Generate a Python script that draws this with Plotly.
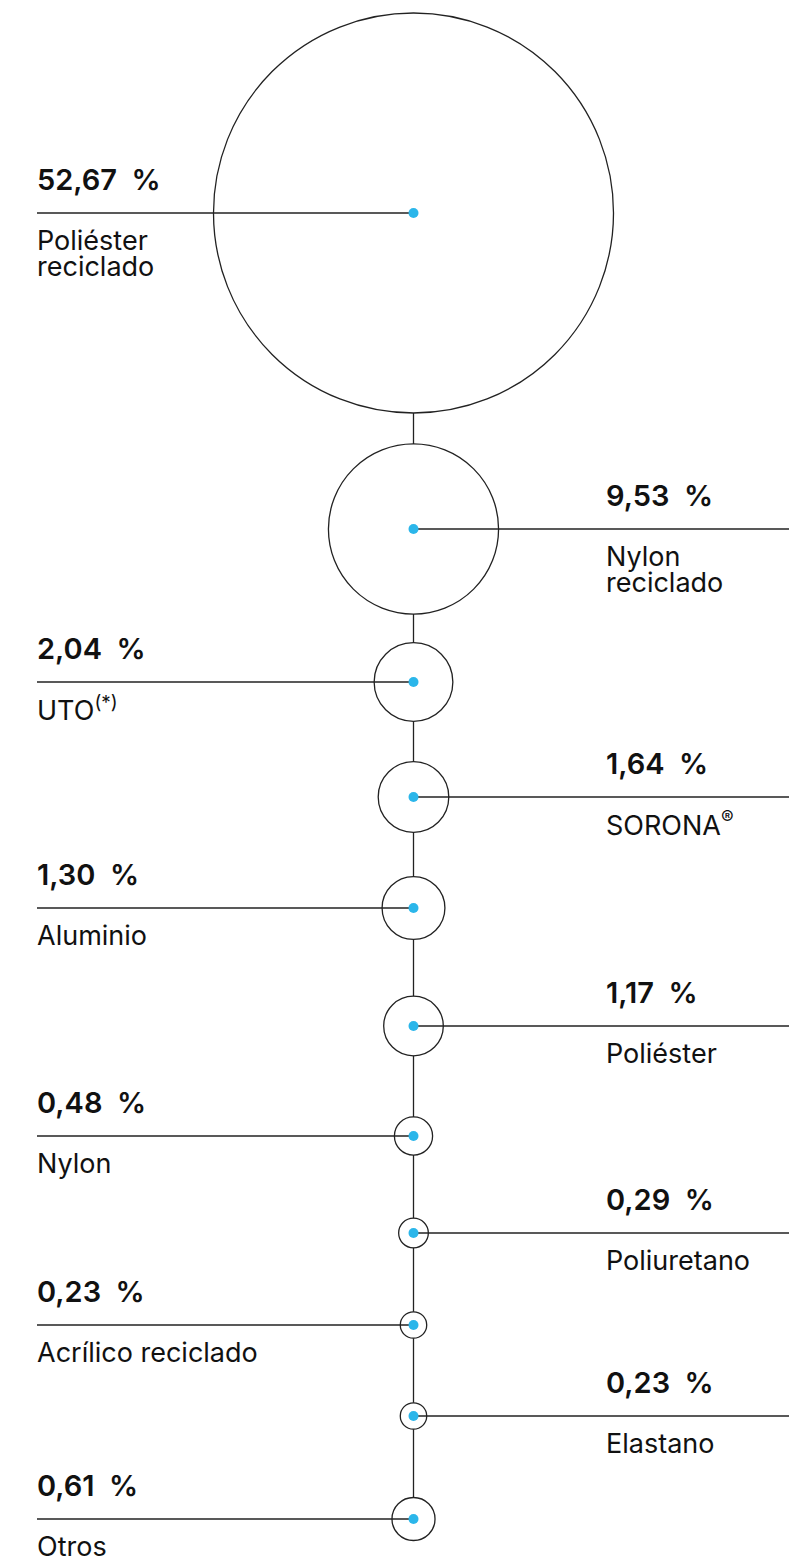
import plotly.graph_objects as go

# composition by material, % of total
materials = [
    "Poliéster\nreciclado", "Nylon\nreciclado", "UTO<sup>(*)</sup>", "SORONA<sup>®</sup>",
    "Aluminio", "Poliéster", "Nylon", "Poliuretano", "Acrílico reciclado", "Elastano", "Otros",
]
shares = [52.67, 9.53, 2.04, 1.64, 1.30, 1.17, 0.48, 0.29, 0.23, 0.23, 0.61]
sides = ["left", "right"] * 5 + ["left"]

# layout: vertical position of each row on the page (px from top)
row_y = [213, 529, 682, 797, 908, 1026, 1136, 1233, 1325, 1416, 1519]

W, H = 789, 1560
AXIS_X = 413.5
LEFT_X, RIGHT_X = 37, 606
TEXT_NUDGE = -2  # glyph side bearing
MAX_DIAM = 400
INK = "#222222"
DOT = "#2bb6ea"
FONT = "Inter"

axis_x = [AXIS_X] * len(shares)

fig = go.Figure()

# spine
fig.add_trace(go.Scatter(
    x=axis_x, y=row_y, mode="lines",
    line=dict(color=INK, width=1.3), hoverinfo="skip",
))

# bubbles, area proportional to the share (plotly halves the value before sqrt)
fig.add_trace(go.Scatter(
    x=axis_x, y=row_y, mode="markers",
    marker=dict(
        size=shares, sizemode="area", sizeref=2 * max(shares) / MAX_DIAM ** 2,
        color="white", opacity=1, line=dict(color=INK, width=1.3),
    ),
    hoverinfo="skip",
))

# leader lines
lx, ly = [], []
for y, side in zip(row_y, sides):
    end = LEFT_X if side == "left" else W
    lx += [end, AXIS_X, None]
    ly += [y, y, None]
fig.add_trace(go.Scatter(
    x=lx, y=ly, mode="lines",
    line=dict(color=INK, width=1.3), hoverinfo="skip",
))

# centre dots
fig.add_trace(go.Scatter(
    x=axis_x, y=row_y, mode="markers",
    marker=dict(size=10, color=DOT, opacity=1), hoverinfo="skip",
))

for name, v, y, side in zip(materials, shares, row_y, sides):
    tx = (LEFT_X if side == "left" else RIGHT_X) + TEXT_NUDGE
    value = f"{v:.2f}".replace(".", ",") + "\u2002%"
    fig.add_annotation(
        x=tx, y=y - 34, text=value, showarrow=False,
        xanchor="left", yanchor="middle",
        font=dict(family=FONT, size=29, weight=600, color="#111111"),
    )
    for i, line in enumerate(name.split("\n")):
        fig.add_annotation(
            x=tx, y=y + 27 + 26 * i, text=line, showarrow=False,
            xanchor="left", yanchor="middle",
            font=dict(family=FONT, size=27, color="#111111"),
        )

fig.update_layout(
    width=W, height=H,
    margin=dict(l=0, r=0, t=0, b=0),
    paper_bgcolor="white", plot_bgcolor="white",
    showlegend=False,
    xaxis=dict(range=[0, W], visible=False, fixedrange=True),
    yaxis=dict(range=[H, 0], visible=False, fixedrange=True),
)

fig.write_html(
    "out.html",
    config={"displayModeBar": False},
    post_script="document.body.style.margin='0';document.body.style.overflow='hidden';",
)
